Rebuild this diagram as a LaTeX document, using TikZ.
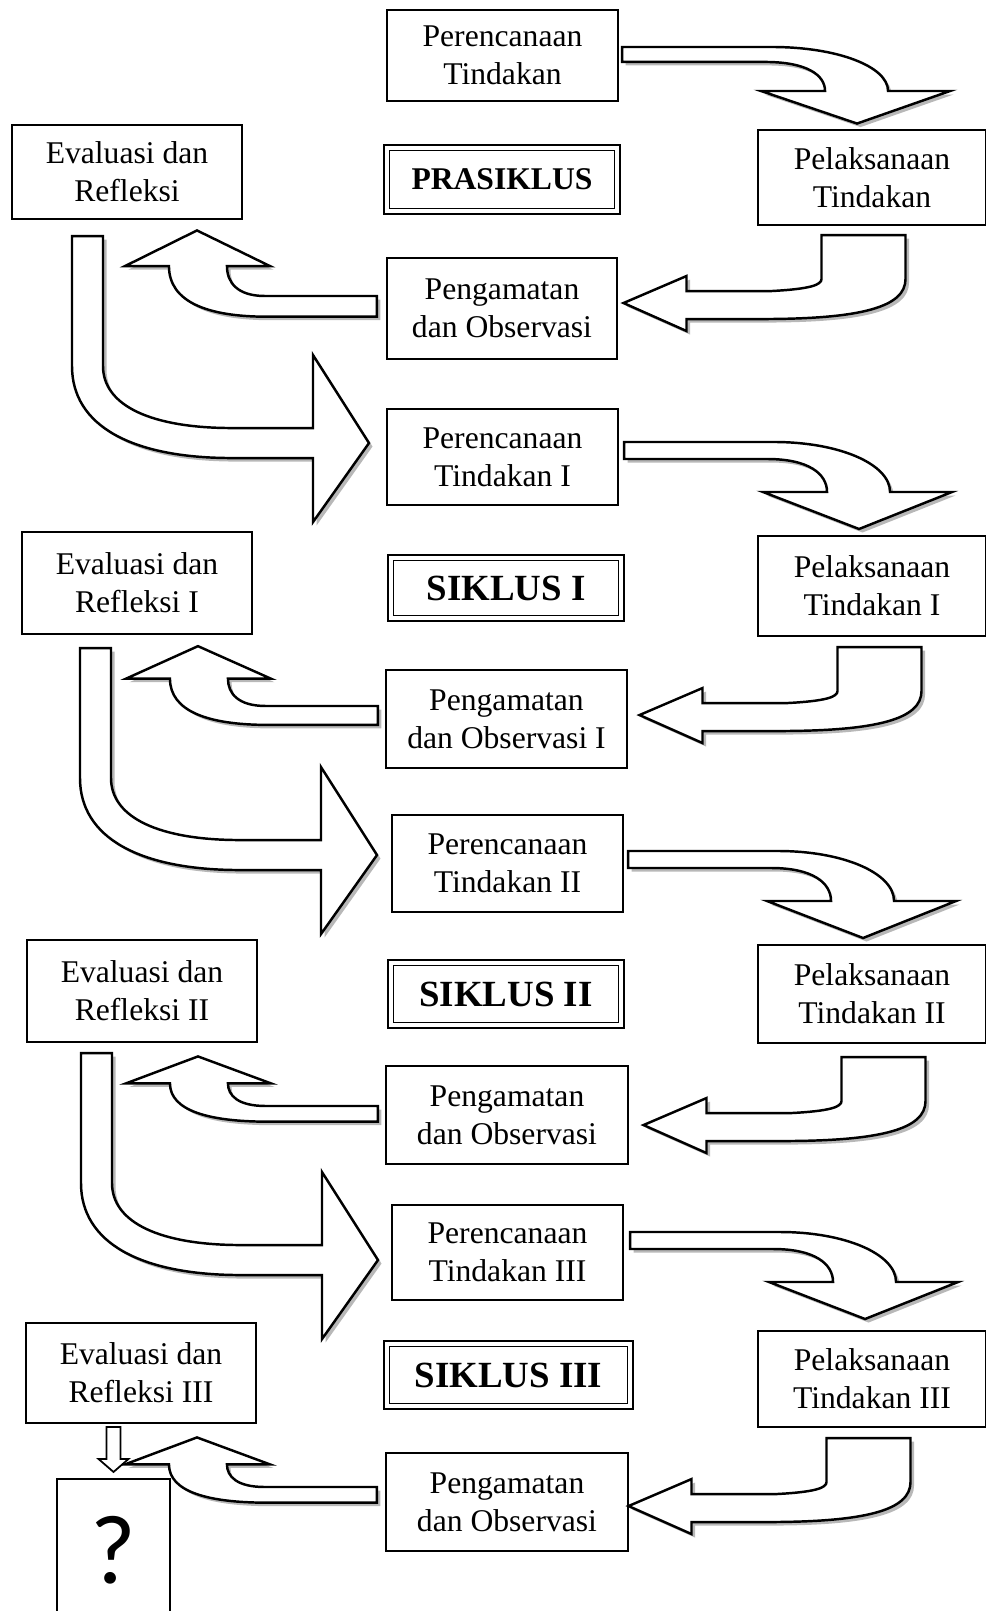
\documentclass[tikz,border=0pt]{standalone}
\usepackage{fontspec}
\setmainfont{Liberation Serif}
\newfontfamily\qfont{Carlito}
\usetikzlibrary{shadows}

\tikzset{
  box/.style={draw, line width=1.2pt, fill=white, align=center, inner sep=0pt,
    minimum width=4.6cm, minimum height=1.96cm, font=\fontsize{18}{21.8}\selectfont},
  siklusbox/.style={draw, line width=1.6pt, inner sep=0pt, minimum width=4.72cm, minimum height=1.36cm,
    font=\bfseries\fontsize{21}{24}\selectfont,
    path picture={\draw[line width=0.9pt]
      ([shift={(3.1pt,-3.1pt)}]path picture bounding box.north west) rectangle
      ([shift={(-3.1pt,3.1pt)}]path picture bounding box.south east);}},
  blockarrow/.style={draw, line width=1.4pt, fill=white,
    drop shadow={shadow xshift=2pt, shadow yshift=-2pt, fill=black!28, opacity=1}},
  % block arrows, drawn in picture units from the start of the shaft
  pics/kananbawah/.style={code={
    \draw[blockarrow] (0,0) -- (150,0) .. controls (215,0) and (266,22) .. (266,50)
      -- (328,50) -- (235,87) -- (139,50) -- (203,50)
      .. controls (203,32) and (185,17) .. (143,17) -- (0,17) -- cycle;}},
  pics/kiribawah/.style={code={
    \draw[blockarrow] (0,0) -- (84,0) -- (84,44) .. controls (84,72) and (40,84) .. (-60,84)
      -- (-135,84) -- (-135,96) -- (-198,68) -- (-135,41) -- (-135,56) -- (-50,56)
      .. controls (-12,54) and (0,50) .. (0,44) -- cycle;}},
  pics/kiriatas/.style={code={
    \draw[blockarrow] (0,0) -- (-112,0) .. controls (-140,0) and (-150,-12) .. (-150,-26)
      -- (-107,-26) -- (-180,-57) -- (-252,-26) -- (-208,-26)
      .. controls (-208,5) and (-170,18) .. (-110,18) -- (0,18) -- cycle;}},
  pics/bawahkanan/.style={code={
    \draw[blockarrow] (0,0) -- (31,0) -- (31,130) .. controls (31,170) and (80,192) .. (160,192)
      -- (241,192) -- (241,119) -- (297,207) -- (241,286) -- (241,222) -- (160,222)
      .. controls (60,222) and (0,190) .. (0,130) -- cycle;}},
}

\begin{document}
\begin{tikzpicture}[x=0.02cm, y=-0.02cm]
  \useasboundingbox (0,0) rectangle (986,1611);

  % PRASIKLUS
  \node[box, minimum width=4.62cm, minimum height=1.82cm] (ren0) at (502.5,55.5) {Perencanaan\\Tindakan};
  \node[box, minimum height=1.88cm] (eva0) at (127,172) {Evaluasi dan\\Refleksi};
  \node[siklusbox, font=\bfseries\fontsize{18}{21}\selectfont, minimum height=1.38cm] (sik0) at (502,179.5) {PRASIKLUS};
  \node[box, minimum width=4.56cm, minimum height=1.9cm] (pel0) at (872,177.5) {Pelaksanaan\\Tindakan};
  \node[box, minimum height=2.02cm] (pen0) at (502,308.5) {Pengamatan\\dan Observasi};

  % SIKLUS I
  \node[box, minimum width=4.62cm, minimum height=1.92cm] (ren1) at (502.5,457) {Perencanaan\\Tindakan I};
  \node[box, minimum height=2.04cm] (eva1) at (137,583) {Evaluasi dan\\Refleksi I};
  \node[siklusbox, minimum height=1.32cm] (sik1) at (506,588) {SIKLUS I};
  \node[box, minimum width=4.56cm, minimum height=2cm] (pel1) at (872,586) {Pelaksanaan\\Tindakan I};
  \node[box, minimum width=4.82cm] (pen1) at (506.5,719) {Pengamatan\\dan Observasi I};

  % SIKLUS II
  \node[box, minimum width=4.62cm, minimum height=1.94cm] (ren2) at (507.5,863.5) {Perencanaan\\Tindakan II};
  \node[box, minimum height=2.04cm] (eva2) at (142,991) {Evaluasi dan\\Refleksi II};
  \node[siklusbox] (sik2) at (506,994) {SIKLUS II};
  \node[box, minimum width=4.56cm] (pel2) at (872,994) {Pelaksanaan\\Tindakan II};
  \node[box, minimum width=4.84cm] (pen2) at (507,1115) {Pengamatan\\dan Observasi};

  % SIKLUS III
  \node[box, minimum width=4.62cm, minimum height=1.9cm] (ren3) at (507.5,1252.5) {Perencanaan\\Tindakan III};
  \node[box, minimum height=2cm] (eva3) at (141,1373) {Evaluasi dan\\Refleksi III};
  \node[siklusbox, minimum width=4.98cm] (sik3) at (508.5,1375) {SIKLUS III};
  \node[box, minimum width=4.56cm, minimum height=1.92cm] (pel3) at (872,1379) {Pelaksanaan\\Tindakan III};
  \node[box, minimum width=4.84cm] (pen3) at (507,1502) {Pengamatan\\dan Observasi};
  \node[box, minimum width=2.26cm, minimum height=2.84cm, font=\qfont\fontsize{56}{60}\selectfont] (q) at (113.5,1550) {?};

  % arrows
  \pic[yscale=0.88] at ([shift={(3,-8.5)}]ren0.east) {kananbawah};
  \pic at ([shift={(-50.5,9)}]pel0.south) {kiribawah};
  \pic[yscale=1.15] at ([shift={(-9,-12.5)}]pen0.west) {kiriatas};
  \pic at ([shift={(-55,16)}]eva0.south) {bawahkanan};

  \pic at ([shift={(5,-15)}]ren1.east) {kananbawah};
  \pic at ([shift={(-34.5,10)}]pel1.south) {kiribawah};
  \pic[yscale=1.05] at ([shift={(-7,-13)}]pen1.west) {kiriatas};
  \pic at ([shift={(-57,13)}]eva1.south) {bawahkanan};

  \pic at ([shift={(4,-12.5)}]ren2.east) {kananbawah};
  \pic at ([shift={(-30.5,13)}]pel2.south) {kiribawah};
  \pic[yscale=0.87] at ([shift={(-7,-9)}]pen2.west) {kiriatas};
  \pic at ([shift={(-61,10)}]eva2.south) {bawahkanan};

  \pic at ([shift={(6,-20.5)}]ren3.east) {kananbawah};
  \pic at ([shift={(-45.5,10)}]pel3.south) {kiribawah};
  \pic[yscale=0.87] at ([shift={(-8,-15)}]pen3.west) {kiriatas};

  % small arrow into the question box
  \draw[line width=1pt, fill=white] ([shift={(0,-6)}]q.north) -- ++(-15,-13) -- ++(8,0) -- ++(0,-32)
    -- ++(14,0) -- ++(0,32) -- ++(8,0) -- cycle;
\end{tikzpicture}
\end{document}
